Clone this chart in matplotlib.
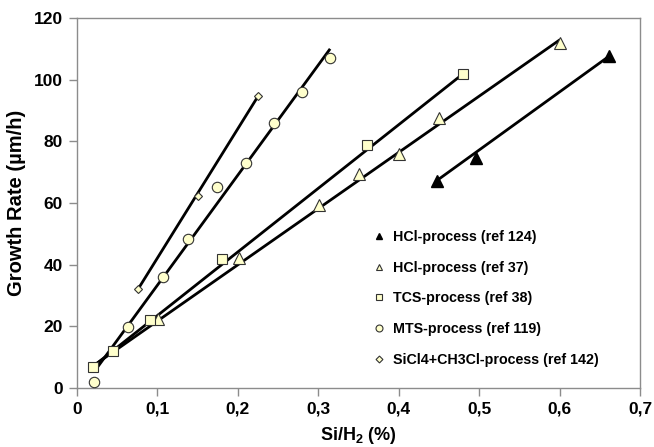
import matplotlib
matplotlib.use("Agg")
import matplotlib.pyplot as plt
from matplotlib.lines import Line2D

plt.rcParams['font.family'] = ['Liberation Sans', 'DejaVu Sans']
plt.rcParams['mathtext.fontset'] = 'custom'
plt.rcParams['mathtext.rm'] = 'Liberation Sans:bold'
plt.rcParams['mathtext.bf'] = 'Liberation Sans:bold'
plt.rcParams['mathtext.default'] = 'bf'

# ---- data ----
hcl124_x = [0.447, 0.496, 0.662]
hcl124_y = [67.2, 74.7, 107.7]
hcl124_fit_x = [0.447, 0.662]
hcl124_fit_y = [67.2, 107.7]

hcl37_x = [0.101, 0.2015, 0.3014, 0.351, 0.4009, 0.4506, 0.6007]
hcl37_y = [22.5, 42.3, 59.3, 69.3, 75.9, 87.5, 111.8]
hcl37_fit_x = [0.022, 0.6007]
hcl37_fit_y = [7.5, 113.0]

tcs_x = [0.020, 0.045, 0.091, 0.1807, 0.361, 0.4805]
tcs_y = [6.9, 12.0, 22.0, 42.0, 78.8, 102.0]
tcs_fit_x = [0.020, 0.4805]
tcs_fit_y = [7.0, 102.0]

mts_x = [0.0215, 0.063, 0.1066, 0.1385, 0.1745, 0.2098, 0.245, 0.280, 0.3147]
mts_y = [2.0, 19.9, 36.1, 48.2, 65.1, 73.1, 86.1, 96.1, 107.0]
mts_fit_x = [0.022, 0.3147]
mts_fit_y = [5.5, 110.0]

sic_x = [0.076, 0.151, 0.2255]
sic_y = [32.1, 62.4, 94.8]
sic_fit_x = [0.076, 0.2255]
sic_fit_y = [32.1, 94.8]

labels = ["HCl-process (ref 124)", "HCl-process (ref 37)", "TCS-process (ref 38)",
          "MTS-process (ref 119)", "SiCl4+CH3Cl-process (ref 142)"]
x_ticks = [0, 0.1, 0.2, 0.3, 0.4, 0.5, 0.6, 0.7]
x_ticklabels = ["0", "0,1", "0,2", "0,3", "0,4", "0,5", "0,6", "0,7"]
y_ticks = [0, 20, 40, 60, 80, 100, 120]

# ---- style ----
fill = '#FFFFCC'
edge = '#333333'
lw = 2.0

fig = plt.figure(figsize=(6.54, 4.47), dpi=100)
ax = fig.add_axes([77/654, 1-388/447, (640-77)/654, (388-18)/447])

for fx, fy in [(hcl124_fit_x, hcl124_fit_y), (hcl37_fit_x, hcl37_fit_y),
               (tcs_fit_x, tcs_fit_y), (mts_fit_x, mts_fit_y), (sic_fit_x, sic_fit_y)]:
    ax.plot(fx, fy, color='black', lw=lw, zorder=2, solid_capstyle='butt')

ax.plot(hcl124_x, hcl124_y, ls='none', marker='^', ms=9, mfc='black', mec='black', zorder=3)
ax.plot(hcl37_x, hcl37_y, ls='none', marker='^', ms=8, mfc=fill, mec=edge, mew=0.8, zorder=3)
ax.plot(tcs_x, tcs_y, ls='none', marker='s', ms=7.5, mfc=fill, mec=edge, mew=0.8, zorder=3)
ax.plot(mts_x, mts_y, ls='none', marker='o', ms=7.5, mfc=fill, mec=edge, mew=0.8, zorder=3)
ax.plot(sic_x, sic_y, ls='none', marker='D', ms=4.5, mfc=fill, mec=edge, mew=0.8, zorder=3)

handles = [
    Line2D([], [], ls='none', marker='^', ms=5, mfc='black', mec='black'),
    Line2D([], [], ls='none', marker='^', ms=5, mfc=fill, mec=edge, mew=0.8),
    Line2D([], [], ls='none', marker='s', ms=5, mfc=fill, mec=edge, mew=0.8),
    Line2D([], [], ls='none', marker='o', ms=5, mfc=fill, mec=edge, mew=0.8),
    Line2D([], [], ls='none', marker='D', ms=3.5, mfc=fill, mec=edge, mew=0.8),
]
leg = ax.legend(handles, labels, loc='upper left', bbox_to_anchor=(362/654, 1-220/447),
                bbox_transform=fig.transFigure, frameon=False,
                prop={'weight': 'bold', 'size': 10.3}, handlelength=1.0,
                handletextpad=0.5, labelspacing=1.17, borderpad=0.2)

ax.set_xlim(0, 0.7)
ax.set_ylim(0, 120)
ax.set_xticks(x_ticks)
ax.set_xticklabels(x_ticklabels)
ax.set_yticks(y_ticks)
for s in ax.spines.values():
    s.set_color('#8c8c8c')
    s.set_linewidth(1.0)
ax.tick_params(direction='out', length=6, width=1.0, color='#8c8c8c',
               labelsize=12.5, pad=4)
for t in ax.get_xticklabels() + ax.get_yticklabels():
    t.set_fontweight('bold')
ax.set_xlabel(r'Si/H$_2$ (%)', fontsize=13, fontweight='bold', labelpad=6)
ax.set_ylabel('Growth Rate (µm/h)', fontsize=14.5, fontweight='bold', labelpad=6)

fig.savefig('out.png', dpi=100)
